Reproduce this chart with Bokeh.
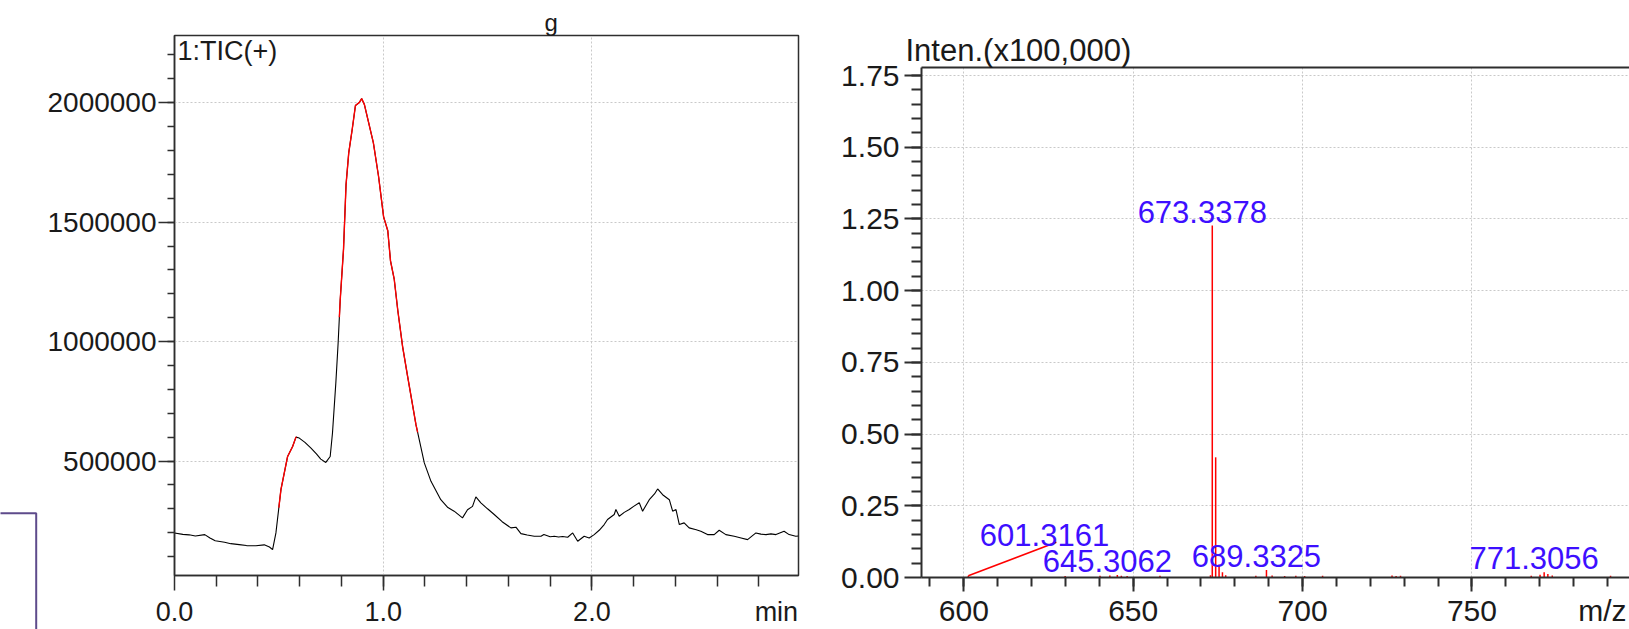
import numpy as np
from bokeh.plotting import figure
from bokeh.layouts import row
from bokeh.models import (FixedTicker, Label, LinearAxis, Range1d, NumeralTickFormatter,
                          BoxAnnotation, CustomJSTickFormatter)
from bokeh.embed import file_html
from bokeh.resources import INLINE
from bokeh.core.properties import value

# ---------------- Total ion chromatogram (TIC, positive mode) ----------------
tic_time = np.array([
    0.00, 0.04, 0.07, 0.10, 0.145, 0.17, 0.195, 0.24, 0.27, 0.31, 0.345, 0.39, 0.43,
    0.455, 0.47, 0.486, 0.51, 0.542, 0.566, 0.582, 0.598, 0.625, 0.654, 0.68, 0.701,
    0.725, 0.746, 0.757, 0.773, 0.784, 0.794, 0.810, 0.822, 0.835, 0.852, 0.867, 0.885,
    0.897, 0.910, 0.928, 0.953, 0.978, 1.002, 1.022, 1.035, 1.053, 1.07, 1.093, 1.117,
    1.157, 1.197, 1.229, 1.276, 1.31, 1.34, 1.38, 1.404, 1.428, 1.444, 1.468, 1.50,
    1.532, 1.57, 1.612, 1.636, 1.66, 1.69, 1.724, 1.756, 1.77, 1.80, 1.82, 1.84, 1.86,
    1.884, 1.908, 1.932, 1.963, 1.987, 2.011, 2.035, 2.059, 2.075, 2.107, 2.115, 2.131,
    2.155, 2.179, 2.20, 2.227, 2.243, 2.275, 2.30, 2.315, 2.339, 2.371, 2.387, 2.403,
    2.419, 2.442, 2.466, 2.50, 2.522, 2.554, 2.586, 2.61, 2.642, 2.682, 2.715, 2.746,
    2.786, 2.81, 2.834, 2.858, 2.882, 2.921, 2.945, 2.977, 2.99])
tic_intensity = np.array([
    199000, 193000, 191000, 186000, 192000, 178000, 166000, 160000, 154000, 150000,
    146000, 145000, 149000, 140000, 129000, 199000, 380000, 519000, 561000, 600000,
    596000, 578000, 554000, 530000, 508000, 494000, 519000, 617000, 826000, 993000,
    1174000, 1388000, 1657000, 1791000, 1891000, 1988000, 2000000, 2017000, 1992000,
    1925000, 1832000, 1690000, 1522000, 1464000, 1338000, 1260000, 1130000, 979000,
    854000, 652000, 492000, 415000, 338000, 305000, 290000, 262000, 296000, 310000,
    350000, 325000, 300000, 276000, 246000, 220000, 223000, 196000, 190000, 185000,
    185000, 192000, 183000, 185000, 182000, 184000, 181000, 199000, 164000, 185000,
    178000, 192000, 210000, 234000, 255000, 276000, 297000, 269000, 285000, 297000,
    310000, 325000, 290000, 338000, 362000, 383000, 359000, 338000, 290000, 297000,
    234000, 241000, 220000, 212000, 206000, 192000, 192000, 210000, 192000, 185000,
    178000, 171000, 199000, 194000, 192000, 195000, 192000, 206000, 192000, 185000,
    186000])
# retention-time windows highlighted in red (averaged for the spectrum)
highlight_windows = [(0.50, 0.585), (0.79, 1.165)]

tic_xticks = [0, 1, 2]
tic_xlabels = ["0.0", "1.0", "2.0"]
tic_xunit = "min"
tic_yticks = [500000, 1000000, 1500000, 2000000]

# ---------------- Mass spectrum (intensity in units of 100,000) ----------------
ms_mz = np.array([
    601.3161, 629.9, 640.2, 643.1, 645.3062, 646.5, 648.2, 657.9, 672.8, 673.3378,
    674.34, 675.34, 676.34, 677.3, 686.2, 689.3325, 691.0, 694.7, 698.0, 700.6, 705.9,
    726.4, 727.6, 728.9, 767.5, 770.1, 771.3056, 772.4, 773.7, 790.9])
ms_intensity = np.array([
    0.006, 0.005, 0.006, 0.007, 0.009, 0.006, 0.005, 0.006, 0.008, 1.227,
    0.419, 0.045, 0.018, 0.008, 0.006, 0.026, 0.007, 0.005, 0.006, 0.005, 0.006,
    0.007, 0.005, 0.006, 0.006, 0.010, 0.018, 0.012, 0.007, 0.006])
labeled_mz = [601.3161, 645.3062, 673.3378, 689.3325, 771.3056]

ms_xticks = [600, 650, 700, 750]
ms_xlabels = ["600", "650", "700", "750"]
ms_xunit = "m/z"
ms_yticks = [0.0, 0.25, 0.5, 0.75, 1.0, 1.25, 1.5, 1.75]

FONT = "Liberation Sans"
INK = "#2e2e2e"
TXT = "#1a1a1a"
GRID = "#c9c9c9"
RED = "#ff0000"
BLUE = "#3d0fff"
PURPLE = "#5e4b8b"


def make_fig(**kw):
    kw.update(output_backend="svg", toolbar_location=None)
    try:
        return figure(frame_align=False, **kw)
    except AttributeError:
        return figure(**kw)


def style_axis(ax, major_out, minor_out, width, size):
    ax.major_tick_in = 0
    ax.minor_tick_in = 0
    ax.major_tick_out = major_out
    ax.minor_tick_out = minor_out
    for attr in ("axis_line", "major_tick_line", "minor_tick_line"):
        setattr(ax, attr + "_color", INK)
        setattr(ax, attr + "_width", width)
    ax.major_label_text_font = FONT
    ax.major_label_text_color = TXT
    ax.major_label_text_font_size = size


def blank_labels(ax):
    # tick marks only; the labels come from a second axis underneath
    ax.formatter = CustomJSTickFormatter(code="return ''")
    ax.major_label_text_font_size = "1px"
    ax.major_label_standoff = 0


def label_axis(ticks, labels, size, standoff):
    return LinearAxis(ticker=FixedTicker(ticks=ticks),
                      major_label_overrides=dict(zip(ticks, labels)),
                      axis_line_color=None, major_tick_line_color=None,
                      minor_tick_line_color=None, major_tick_out=0, major_tick_in=0,
                      minor_tick_out=0, minor_tick_in=0, major_label_standoff=standoff,
                      major_label_text_font=FONT, major_label_text_font_size=size,
                      major_label_text_color=TXT)


def style_grid(g, ticks):
    g.ticker = FixedTicker(ticks=ticks)
    g.grid_line_color = GRID
    g.grid_line_dash = "2 2"
    g.grid_line_width = 1


# ================= corner of the neighbouring frame =================
edge = make_fig(width=40, height=629, x_range=Range1d(0, 40), y_range=Range1d(629, 0),
                x_axis_location=None, y_axis_location=None,
                min_border_left=0, min_border_right=0, min_border_top=0, min_border_bottom=0)
edge.outline_line_color = None
edge.grid.visible = False
edge.add_layout(BoxAnnotation(left=-10, right=35.7, top=512.7, bottom=700,
                              fill_alpha=0, line_color=PURPLE, line_alpha=1, line_width=2))

# ================= chromatogram panel =================
tic = make_fig(width=790, height=629, x_range=Range1d(0, 2.99),
               y_range=Range1d(20750, 2281200), title="g",
               min_border_left=134, min_border_right=32, min_border_top=35,
               min_border_bottom=53)
tic.outline_line_color = INK
tic.outline_line_width = 1.5
tic.title.text_font = FONT
tic.title.text_font_size = "24px"
tic.title.text_font_style = "normal"
tic.title.text_color = TXT
tic.title.align = "left"
tic.title.offset = 370
tic.title.standoff = 0

style_axis(tic.xaxis[0], 15, 11, 1.5, "1px")
tic.xaxis.ticker = FixedTicker(ticks=tic_xticks, minor_ticks=list(np.arange(0.2, 2.9, 0.2)))
blank_labels(tic.xaxis[0])
tic.add_layout(label_axis(tic_xticks + [2.884], tic_xlabels + [tic_xunit], "27px", 6), "below")

style_axis(tic.yaxis[0], 16, 7, 1.5, "28px")
tic.yaxis.ticker = FixedTicker(ticks=tic_yticks, minor_ticks=list(range(100000, 2300000, 100000)))
tic.yaxis.formatter = NumeralTickFormatter(format="0")
tic.yaxis.major_label_standoff = 2
style_grid(tic.xgrid[0], tic_xticks[1:])
style_grid(tic.ygrid[0], tic_yticks)

tic.line(tic_time, tic_intensity, line_color="black", line_width=1.1)
seg_x, seg_y = [], []
for t0, t1 in highlight_windows:
    m = (tic_time > t0) & (tic_time < t1)
    seg_x.append(np.concatenate([[t0], tic_time[m], [t1]]))
    seg_y.append(np.concatenate([[np.interp(t0, tic_time, tic_intensity)], tic_intensity[m],
                                 [np.interp(t1, tic_time, tic_intensity)]]))
tic.multi_line(seg_x, seg_y, line_color=RED, line_width=1.4)

tic.add_layout(Label(x=0, y=2281200, x_offset=3, text="1:TIC(+)", text_font=FONT,
                     text_font_size="27px", text_color=TXT, text_baseline="top"))

# ================= mass spectrum panel =================
MS_TOP, MS_BOTTOM, MS_H = 67, 51, 629
ms_ymax = 1.778
ms = make_fig(width=799, height=MS_H, x_range=Range1d(587.5, 796.5),
              y_range=Range1d(0, ms_ymax), title="Inten.(x100,000)",
              min_border_left=91, min_border_right=0, min_border_top=MS_TOP,
              min_border_bottom=MS_BOTTOM)
ms.outline_line_color = None
ms.title.text_font = FONT
ms.title.text_font_size = "31px"
ms.title.text_font_style = "normal"
ms.title.text_color = TXT
ms.title.align = "left"
ms.title.offset = -16
ms.title.standoff = 0

style_axis(ms.xaxis[0], 14, 9, 2, "1px")
ms.xaxis.ticker = FixedTicker(ticks=ms_xticks, minor_ticks=list(range(590, 800, 10)))
blank_labels(ms.xaxis[0])
ms.add_layout(label_axis(ms_xticks + [788.5], ms_xlabels + [ms_xunit], "30px", 2), "below")

style_axis(ms.yaxis[0], 17, 10, 2, "30px")
ms.yaxis.ticker = FixedTicker(ticks=ms_yticks, minor_ticks=list(np.arange(0.05, 1.76, 0.05)))
ms.yaxis.formatter = NumeralTickFormatter(format="0.00")
ms.yaxis.major_label_standoff = 5
top_axis = LinearAxis(ticker=FixedTicker(ticks=[]), axis_line_color=INK, axis_line_width=2,
                      major_tick_out=0, major_tick_in=0, minor_tick_out=0, minor_tick_in=0,
                      major_label_standoff=0)
ms.add_layout(top_axis, "above")
style_grid(ms.xgrid[0], ms_xticks)
style_grid(ms.ygrid[0], ms_yticks[1:])

ms.segment(x0=ms_mz, y0=0, x1=ms_mz, y1=ms_intensity, line_color=RED, line_width=1.5)

# pixel -> data conversion for nudging the peak annotations
units_per_px = ms_ymax / (MS_H - MS_TOP - MS_BOTTOM)
lab_x, lab_y, lab_t, lab_dx = [], [], [], []
lead = None
for mz in labeled_mz:
    h = float(ms_intensity[np.argmin(np.abs(ms_mz - mz))])
    if mz == labeled_mz[0]:
        # first label is lifted and tied to its peak with a leader line
        lab_x.append(mz + 22.5)
        lab_y.append(h + 0.124 - 6 * units_per_px)
        lab_dx.append(0)
        lead = (mz, h, mz + 26.0, h + 0.117)
    else:
        lab_x.append(mz)
        lab_y.append(h + 3 * units_per_px)
        lab_dx.append(-10)
    lab_t.append(f"{mz:.4f}")
ms.segment(x0=[lead[0]], y0=[lead[1]], x1=[lead[2]], y1=[lead[3]], line_color=RED, line_width=1.5)
ms.text(x=lab_x, y=lab_y, text=lab_t, x_offset=lab_dx, text_font=value(FONT),
        text_font_size="31px", text_color=BLUE, text_align="center", text_baseline="bottom")

layout = row(edge, tic, ms)
open("out.html", "w").write(file_html(layout, INLINE))
